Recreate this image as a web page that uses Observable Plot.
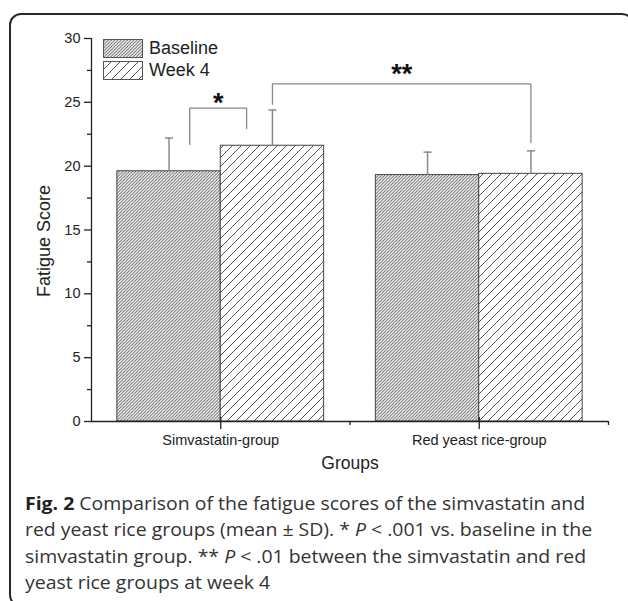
<!DOCTYPE html>
<html>
<head>
<meta charset="utf-8">
<script src="https://cdn.jsdelivr.net/npm/d3@7"></script>
<script src="https://cdn.jsdelivr.net/npm/@observablehq/plot@0.6"></script>
<style>
  html, body { margin: 0; padding: 0; background: #fff; }
  #wrap { position: relative; width: 628px; height: 601px; overflow: hidden; font-family: "Liberation Sans", Arial, sans-serif; }
  #frame { position: absolute; left: 9px; top: 13px; width: 625px; height: 594px; border: 2px solid #2a2a2a; border-radius: 12px; box-sizing: border-box; pointer-events: none; z-index: 3; }
  #chart { position: absolute; left: 0; top: 0; }
  #legend { position: absolute; left: 103px; top: 37px; z-index: 2; }
  .item { display: flex; align-items: center; height: 22.3px; }
  .item svg { display: block; }
  .item span { margin-left: 6px; font-size: 18px; color: #222; line-height: 1; }
  #caption { position: absolute; left: 25px; top: 490px; font-family: "Open Sans", sans-serif; font-size: 18px; line-height: 26.3px; color: #333; white-space: nowrap; transform: scaleX(1.08); transform-origin: 0 0; }
  #caption b { color: #222; }
</style>
</head>
<body>
<div id="wrap">
  <div id="chart"></div>
  <div id="legend"></div>
  <div id="caption"></div>
  <div id="frame"></div>
</div>
<script>
// ---- data ----
const groups = ["Simvastatin-group", "Red yeast rice-group"];
const seriesNames = ["Baseline", "Week 4"];
const baselineMean = [19.6, 19.3];
const baselineSD = [2.6, 1.8];
const week4Mean = [21.6, 19.4];
const week4SD = [2.8, 1.8];
const yTicks = [0, 5, 10, 15, 20, 25, 30];
const yMinorTicks = [2.5, 7.5, 12.5, 17.5, 22.5, 27.5];
const xMinorTicks = [1.5, 2.5];
// significance brackets
const bracketLabels = ["*", "**"];
const bracketLeftX = [0.88, 1.2];
const bracketRightX = [1.1, 2.2];
const bracketTopY = [24.55, 26.45];
const bracketLeftEndY = [21.7, 24.85];
const bracketRightEndY = [22.95, 21.85];
const bracketLabelY = [25.3, 27.6];
const captionLines = [
  "<b>Fig. 2</b> Comparison of the fatigue scores of the simvastatin and",
  "red yeast rice groups (mean ± SD). * <i>P</i> &lt; .001 vs. baseline in the",
  "simvastatin group. ** <i>P</i> &lt; .01 between the simvastatin and red",
  "yeast rice groups at week 4"
];

// ---- build tables ----
const BAR_W = 0.4;
const bars = [];
groups.forEach((g, i) => {
  bars.push({group: g, series: seriesNames[0], x1: i + 1 - BAR_W, x2: i + 1, mean: baselineMean[i], sd: baselineSD[i]});
  bars.push({group: g, series: seriesNames[1], x1: i + 1, x2: i + 1 + BAR_W, mean: week4Mean[i], sd: week4SD[i]});
});
const bracketPts = [];
const bracketText = [];
bracketLabels.forEach((lab, i) => {
  bracketPts.push({id: i, x: bracketLeftX[i], y: bracketLeftEndY[i]});
  bracketPts.push({id: i, x: bracketLeftX[i], y: bracketTopY[i]});
  bracketPts.push({id: i, x: bracketRightX[i], y: bracketTopY[i]});
  bracketPts.push({id: i, x: bracketRightX[i], y: bracketRightEndY[i]});
  bracketText.push({x: (bracketLeftX[i] + bracketRightX[i]) / 2, y: bracketLabelY[i], text: lab});
});

const fills = {"Baseline": "hatchDense", "Week 4": "hatchSparse"};
function addHatch(defs, id, s, sw) {
  const p = defs.append("pattern").attr("id", id).attr("patternUnits", "userSpaceOnUse")
    .attr("width", s).attr("height", s);
  p.append("rect").attr("width", s).attr("height", s).attr("fill", "#fff");
  p.append("path")
    .attr("d", `M0,${s} L${s},0 M${-s/2},${s/2} L${s/2},${-s/2} M${s/2},${s*1.5} L${s*1.5},${s/2}`)
    .attr("stroke", "#555").attr("stroke-width", sw).attr("fill", "none");
}
function patterns() {
  const defs = d3.create("svg:defs");
  addHatch(defs, "hatchDense", 3.2, 0.9);
  addHatch(defs, "hatchSparse", 9, 1);
  return defs.node();
}
const capSymbol = {
  draw(ctx, size) { const r = Math.sqrt(size / Math.PI); ctx.moveTo(-r, 0); ctx.lineTo(r, 0); }
};
const mid = d => (d.x1 + d.x2) / 2;
const errTop = d => d.mean + d.sd;
const errColor = "#8a8a8a";
const tickFont = 14.5;

const chart = Plot.plot({
  width: 628,
  height: 490,
  marginLeft: 91,
  marginRight: 20,
  marginTop: 38,
  marginBottom: 69,
  style: {background: "transparent", fontFamily: "'Liberation Sans', Arial, sans-serif", fontSize: "14.5px", color: "#222", overflow: "visible"},
  x: {type: "linear", domain: [0.5, 2.5]},
  y: {domain: [0, 30]},
  marks: [
    patterns,
    ...seriesNames.map(s => Plot.rectY(bars.filter(d => d.series === s), {
      x1: "x1", x2: "x2", y: "mean", fill: `url(#${fills[s]})`, stroke: "#444", strokeWidth: 1
    })),
    Plot.ruleX(bars, {x: mid, y1: "mean", y2: errTop, stroke: errColor, strokeWidth: 1.5}),
    Plot.dot(bars, {x: mid, y: errTop, symbol: capSymbol, r: 4, fill: "none", stroke: errColor, strokeWidth: 1.5}),
    Plot.line(bracketPts, {x: "x", y: "y", z: "id", stroke: errColor, strokeWidth: 1.3}),
    Plot.text(bracketText, {x: "x", y: "y", text: "text", fontWeight: "bold", fontSize: 27, fill: "#111", dy: 5}),
    Plot.ruleX([0.5], {stroke: "#222", strokeWidth: 1.3}),
    Plot.ruleY([0], {stroke: "#222", strokeWidth: 1.3}),
    Plot.axisY({ticks: yTicks, tickSize: 7, tickPadding: 4, tickFormat: d => String(d), label: null, strokeWidth: 1.3, fontSize: tickFont, fill: "#222"}),
    Plot.axisY({ticks: yMinorTicks, tickSize: 4, tickFormat: () => "", label: null, strokeWidth: 1.3}),
    Plot.axisX({ticks: [1, 2], tickSize: 12, dy: -4, tickFormat: () => "", label: null, strokeWidth: 1.3}),
    Plot.axisX({ticks: xMinorTicks, tickSize: 4, tickFormat: () => "", label: null, strokeWidth: 1.3}),
    Plot.axisX({ticks: [1, 2], tickSize: 0, tickPadding: 13, tickFormat: d => groups[Math.round(d) - 1], label: null, fontSize: tickFont, fill: "#222"}),
    Plot.text(["Groups"], {frameAnchor: "bottom", dy: 47, fontSize: 17.5, fill: "#222"}),
    Plot.text(["Fatigue Score"], {frameAnchor: "left", textAnchor: "middle", rotate: -90, dx: -47, dy: 11, fontSize: 18, fill: "#222"})
  ]
});
document.getElementById("chart").appendChild(chart);

// ---- legend ----
const legend = d3.select("#legend");
const legendPat = {"Baseline": [3.2, 0.9], "Week 4": [9, 1]};
seriesNames.forEach((s, i) => {
  const item = legend.append("div").attr("class", "item");
  const sv = item.append("svg").attr("width", 40).attr("height", 19);
  const defs = sv.append("defs");
  addHatch(defs, "leg" + i, legendPat[s][0], legendPat[s][1]);
  sv.append("rect").attr("x", 0.5).attr("y", 0.5).attr("width", 39).attr("height", 18)
    .attr("fill", `url(#leg${i})`).attr("stroke", "#555").attr("stroke-width", 1);
  item.append("span").text(s);
});

// ---- caption ----
document.getElementById("caption").innerHTML = captionLines.join("<br>");
</script>
</body>
</html>
